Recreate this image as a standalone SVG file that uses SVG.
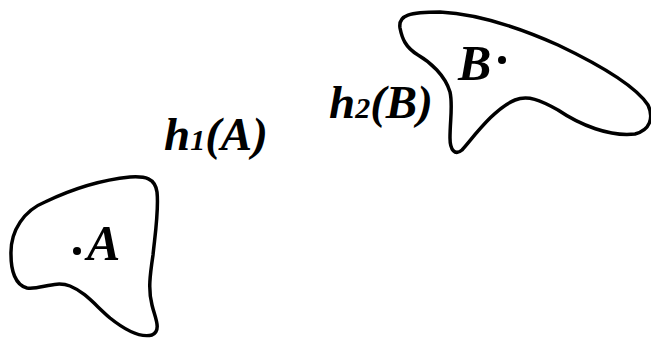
<svg xmlns="http://www.w3.org/2000/svg" width="651" height="338" viewBox="0 0 651 338">
<style>
.blob{fill:none;stroke:#000;stroke-width:3.5;stroke-linejoin:round}
.lbl{font-family:"Liberation Serif","Times New Roman",serif;font-weight:bold;font-style:italic;fill:#000}
</style>
<rect width="651" height="338" fill="#fff"/>
<g id="regionA">
<path class="blob" d="M11,255 C10,230 25,210 45,202 C70,190 100,180 130,177 C145,176 155,178 157,192 C159,210 155,235 153,255 C150,275 148,290 152,305 C155,318 162,330 152,335 C140,338 125,330 110,318 C95,305 85,292 70,286 C55,280 40,290 27,288 C15,285 11,270 11,255 Z"/>
<circle cx="77" cy="251" r="4"/>
<text class="lbl" x="87" y="260" font-size="50">A</text>
</g>
<g id="regionB">
<path class="blob" d="M400,28 C398,15 410,12 440,12 C480,14 520,28 558,45 C600,65 635,85 648,105 C654,118 650,130 635,134 C610,137 580,125 558,110 C540,100 528,95 515,100 C495,108 475,135 462,150 C455,156 450,150 450,138 C450,120 453,105 450,92 C445,75 430,62 418,55 C405,47 402,38 400,28 Z"/>
<circle cx="502" cy="60" r="4"/>
<text class="lbl" x="458" y="80" font-size="50">B</text>
</g>
<g id="labels">
<text class="lbl" x="164" y="150" font-size="47">h<tspan font-size="30">1</tspan>(A)</text>
<text class="lbl" x="329" y="118" font-size="47">h<tspan font-size="30">2</tspan>(B)</text>
</g>
</svg>
